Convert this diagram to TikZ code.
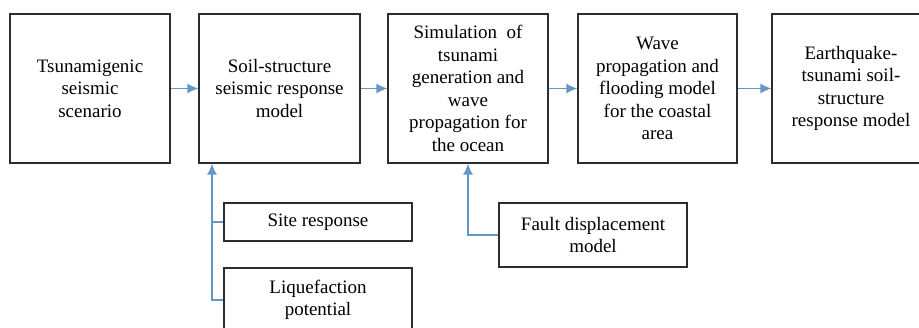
\documentclass[tikz,border=0pt]{standalone}
\usepackage{fontspec}
\setmainfont{Liberation Serif}
\usetikzlibrary{arrows.meta}
\definecolor{arrowblue}{RGB}{100,150,198}
\definecolor{boxline}{RGB}{45,45,45}
\begin{document}
\begin{tikzpicture}[x=1pt,y=-1pt,
  box/.style={draw=boxline, line width=1.3pt, inner sep=0pt, align=center,
    font=\fontsize{19}{22.6}\selectfont},
  conn/.style={draw=arrowblue, line width=1.3pt},
  arr/.style={conn, -{Latex[length=11pt,width=10pt]}}]
\useasboundingbox (0,0) rectangle (919,328);
\clip (0,0) rectangle (919,328);
\node[box, minimum width=160pt, minimum height=149pt] (b1) at (90,88.5) {Tsunamigenic\\seismic\\scenario};
\node[box, minimum width=161pt, minimum height=149pt] (b2) at (279.5,88.5) {Soil-structure\\seismic response\\model};
\node[box, minimum width=160pt, minimum height=149pt] (b3) at (468,88.5) {Simulation~~of\\tsunami\\generation and\\wave\\propagation for\\the ocean};
\node[box, minimum width=159pt, minimum height=149pt] (b4) at (657.5,88.5) {Wave\\propagation and\\flooding model\\for the coastal\\area};
\node[box, minimum width=158pt, minimum height=149pt] (b5) at (851,88.5) {Earthquake-\\tsunami soil-\\structure\\response model};
\node[box, minimum width=188pt, minimum height=38pt] (site) at (318,222) {Site response};
\node[box, minimum width=188pt, minimum height=64pt] (liq) at (318,300) {Liquefaction\\potential};
\node[box, minimum width=188pt, minimum height=64pt] (fault) at (593,235) {Fault displacement\\model};
\coordinate (j1) at (212,0);
\coordinate (j2) at (468,0);
\draw[arr] (b1.east) -- (b2.west);
\draw[arr] (b2.east) -- (b3.west);
\draw[arr] (b3.east) -- (b4.west);
\draw[arr] (b4.east) -- (b5.west);
\draw[arr] (liq.west) -- (liq.west -| j1) -- (b2.south -| j1);
\draw[conn] (site.west) -- (site.west -| j1);
\draw[arr] (fault.west) -- (fault.west -| j2) -- (b3.south -| j2);
\end{tikzpicture}
\end{document}
